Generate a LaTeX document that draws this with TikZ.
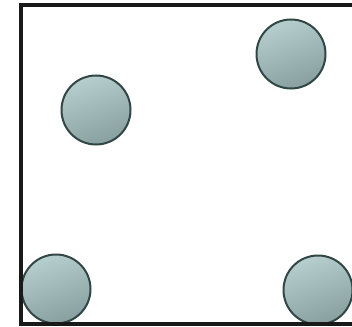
\documentclass[tikz,border=0pt]{standalone}
\begin{document}
\begin{tikzpicture}[x=1pt,y=-1pt,
  ball/.style={circle,draw=black!75!teal!60!gray,line width=2pt,inner sep=0pt,minimum size=69pt,
    shading=axis,top color=black!10!teal!25!white!85!gray,bottom color=teal!25!gray!75!white,shading angle=20}]
\useasboundingbox (0,0) rectangle (352,326);
\clip (0,0) rectangle (352,326);
\fill[white] (0,0) rectangle (352,326);
\node[ball] (b1) at (291,54) {};
\node[ball] (b2) at (96,110) {};
\node[ball] (b3) at (56,289) {};
\node[ball] (b4) at (318,290) {};
\draw[line width=4pt,black!90] (20.5,5.5) rectangle (380,323.5);
\end{tikzpicture}
\end{document}
